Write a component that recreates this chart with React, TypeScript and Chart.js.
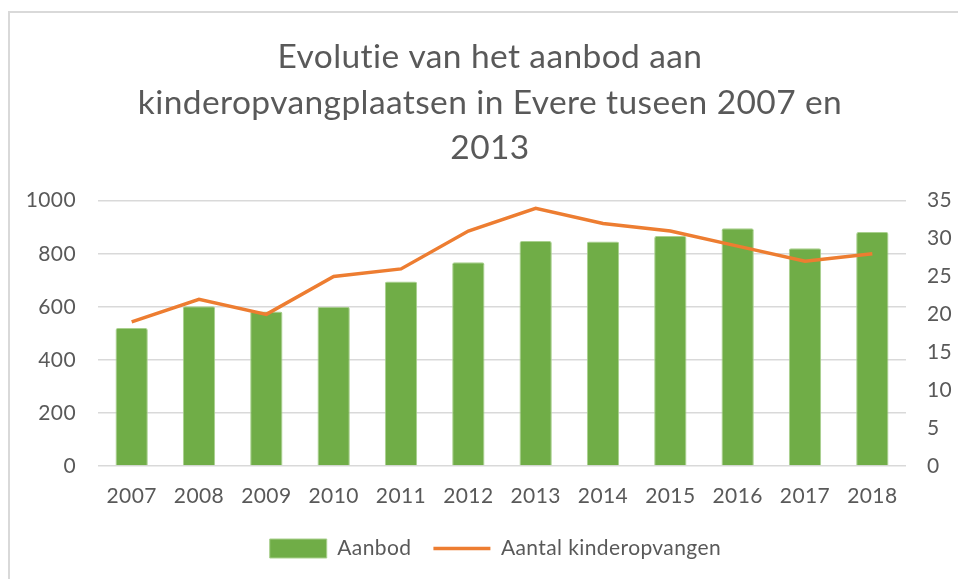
import React, { useEffect, useRef } from "react";
import { Chart, registerables } from "chart.js";

Chart.register(...registerables);

const years = ["2007", "2008", "2009", "2010", "2011", "2012", "2013", "2014", "2015", "2016", "2017", "2018"];
const aanbod = [520, 602, 582, 600, 695, 768, 848, 846, 867, 896, 821, 882];
const aantalKinderopvangen = [19, 22, 20, 25, 26, 31, 34, 32, 31, 29, 27, 28];
const titleLines = ["Evolutie van het aanbod aan", "kinderopvangplaatsen in Evere tuseen 2007 en", "2013"];

const FONT = "Lato, 'Open Sans', sans-serif";
const TEXT = "#595959";

const spacingPlugin = {
  id: "spacing",
  beforeDraw(chart: any) {
    try {
      (chart.ctx as any).letterSpacing = "0.4px";
    } catch (e) {}
  },
};

export default function App() {
  const ref = useRef<HTMLCanvasElement | null>(null);
  useEffect(() => {
    if (!ref.current) return;
    const chart = new Chart(ref.current, {
      type: "bar",
      plugins: [spacingPlugin],
      data: {
        labels: years,
        datasets: [
          {
            type: "line",
            label: "Aantal kinderopvangen",
            data: aantalKinderopvangen,
            borderColor: "#ED7D31",
            backgroundColor: "#ED7D31",
            borderWidth: 3.5,
            pointRadius: 0,
            pointStyle: "line",
            yAxisID: "y1",
            order: 0,
          } as any,
          {
            type: "bar",
            label: "Aanbod",
            data: aanbod,
            backgroundColor: "#70AD47",
            borderColor: "#A9D08E",
            borderWidth: 1,
            borderRadius: 2,
            pointStyle: "rect",
            barPercentage: 0.48,
            categoryPercentage: 1,
            yAxisID: "y",
            order: 1,
          } as any,
        ],
      },
      options: {
        animation: false,
        responsive: true,
        maintainAspectRatio: false,
        layout: { padding: { left: 22, right: 0, top: 0, bottom: 10 } },
        plugins: {
          title: {
            display: true,
            text: titleLines,
            color: TEXT,
            font: { family: FONT, size: 33.5, weight: "normal", lineHeight: 1.35 },
            padding: { top: 35, bottom: 30 },
          },
          legend: {
            position: "bottom",
            reverse: true,
            labels: {
              usePointStyle: true,
              pointStyleWidth: 57,
              boxHeight: 19,
              color: TEXT,
              font: { family: FONT, size: 21 },
              padding: 22,
            },
          },
          tooltip: { enabled: false },
        },
        scales: {
          x: {
            grid: { display: false, drawTicks: false },
            border: { display: false },
            ticks: { color: TEXT, font: { family: FONT, size: 21 }, padding: 18 },
            afterFit: (axis: any) => {
              axis.height = 50;
            },
          },
          y: {
            position: "left",
            min: 0,
            max: 1000,
            ticks: {
              stepSize: 200,
              color: TEXT,
              font: { family: FONT, size: 21 },
              padding: 22,
              callback: (v: any) => String(v),
            },
            grid: { color: "#d9d9d9", lineWidth: 1.5, drawTicks: false },
            border: { display: false },
            afterFit: (axis: any) => {
              axis.width = 76;
            },
          },
          y1: {
            position: "right",
            min: 0,
            max: 35,
            ticks: {
              stepSize: 5,
              color: TEXT,
              font: { family: FONT, size: 21 },
              padding: 21,
              callback: (v: any) => String(v),
            },
            grid: { display: false, drawTicks: false },
            border: { display: false },
            afterFit: (axis: any) => {
              axis.width = 52;
            },
          },
        },
      },
    });
    return () => chart.destroy();
  }, []);
  return (
    <div style={{ position: "fixed", left: 0, top: 0, width: 958, height: 579, background: "#fff" }}>
      <div
        style={{
          position: "absolute",
          left: 8,
          top: 11,
          width: 2000,
          height: 2000,
          border: "2px solid #d9d9d9",
        }}
      />
      <div style={{ position: "absolute", left: 0, top: 0, width: 958, height: 579 }}>
        <canvas ref={ref} />
      </div>
    </div>
  );
}
